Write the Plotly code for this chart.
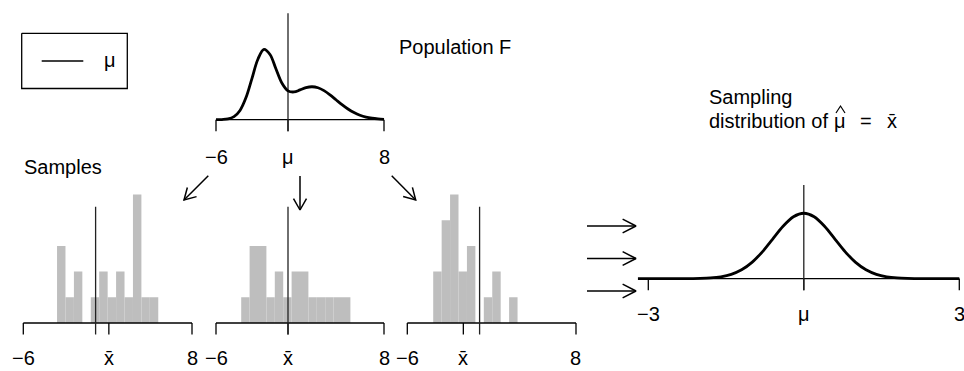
import math
import plotly.graph_objects as go

W, H = 964, 371
FONT = "Liberation Sans, Arial, Helvetica, sans-serif"
FS = 20

# ---------------- data ----------------
mu = 0.0

# population density F
pop_x = [-6, -5.5, -5, -4.5, -4, -3.5, -3, -2.5, -2, -1.5, -1, -0.5, 0, 0.5, 1, 1.5,
         2, 2.5, 3, 3.5, 4, 4.5, 5, 5.5, 6, 6.5, 7, 7.5, 8]
pop_y = [0.0001, 0.0005, 0.0024, 0.0093, 0.0281, 0.0670, 0.1254, 0.1840, 0.2130,
         0.1976, 0.1534, 0.1104, 0.0875, 0.0841, 0.0902, 0.0971, 0.0998, 0.0967,
         0.0880, 0.0753, 0.0605, 0.0457, 0.0324, 0.0216, 0.0135, 0.0079, 0.0044,
         0.0023, 0.0011]
pop_ticks = [-6, 0, 8]
pop_tick_labels = ["\u22126", "\u03bc", "8"]

# three samples (histograms)
bin_width = 0.7
sample_bin_start = [-3.2, -3.9, -3.85]
sample1_counts = [3, 1, 2, 0, 1, 2, 1, 2, 1, 5, 1, 1]
sample2_counts = [1, 3, 3, 1, 2, 1, 2, 2, 1, 1, 1, 1, 1]
sample3_counts = [2, 4, 5, 2, 3, 0, 1, 2, 0, 1]
sample_means = [1.1, 0.0, -1.35]
hist_tick_labels = ["\u22126", "x\u0304", "8"]

# sampling distribution of the mean
norm_x = [-3.2, -3.0, -2.8, -2.6, -2.4, -2.2, -2.0, -1.8, -1.6, -1.4, -1.2, -1.0,
          -0.8, -0.6, -0.4, -0.2, 0.0, 0.2, 0.4, 0.6, 0.8, 1.0, 1.2, 1.4, 1.6, 1.8,
          2.0, 2.2, 2.4, 2.6, 2.8, 3.0]
norm_y = [0.0, 0.0, 0.00001, 0.00006, 0.00022, 0.0008, 0.0026, 0.0074, 0.0190,
          0.0437, 0.0900, 0.1658, 0.2733, 0.4033, 0.5324, 0.6290, 0.6649, 0.6290,
          0.5324, 0.4033, 0.2733, 0.1658, 0.0900, 0.0437, 0.0190, 0.0074, 0.0026,
          0.0008, 0.00022, 0.00006, 0.00001, 0.0]
norm_ticks = [-3, 0, 3]
norm_tick_labels = ["\u22123", "\u03bc", "3"]

# ---------------- layout helpers ----------------
fig = go.Figure()
layout = dict(width=W, height=H, margin=dict(l=0, r=0, t=0, b=0),
              paper_bgcolor="white", plot_bgcolor="rgba(0,0,0,0)",
              showlegend=False, font=dict(family=FONT, size=FS, color="black"))
annotations = []


def refs(i):
    return ("x" if i == 1 else f"x{i}"), ("y" if i == 1 else f"y{i}")


def add_panel(i, xa, xb, pxa, pxb, xr, base, ypu, yr):
    s = (pxb - pxa) / (xb - xa)
    left = pxa + (xr[0] - xa) * s
    right = pxa + (xr[1] - xa) * s
    bottom = base - yr[0] * ypu
    top = base - yr[1] * ypu
    xk = "xaxis" if i == 1 else f"xaxis{i}"
    yk = "yaxis" if i == 1 else f"yaxis{i}"
    xr_, yr_ = refs(i)
    layout[xk] = dict(domain=[left / W, right / W], range=xr, visible=False,
                      fixedrange=True, anchor=yr_)
    layout[yk] = dict(domain=[1 - bottom / H, 1 - top / H], range=yr, visible=False,
                      fixedrange=True, anchor=xr_)


def axis_with_ticks(i, ticks, labels, tick_len, label_px, lo, hi):
    xr_, yr_ = refs(i)
    fig.add_trace(go.Scatter(x=[lo, hi], y=[0, 0], mode="lines",
                             line=dict(color="black", width=1.3),
                             xaxis=xr_, yaxis=yr_, hoverinfo="skip"))
    xs, ys = [], []
    for t in ticks:
        xs += [t, t, None]
        ys += [0, -tick_len, None]
    fig.add_trace(go.Scatter(x=xs, y=ys, mode="lines",
                             line=dict(color="black", width=1.3),
                             xaxis=xr_, yaxis=yr_, hoverinfo="skip"))
    for t, lab in zip(ticks, labels):
        annotations.append(dict(x=t, y=1 - label_px / H, xref=xr_, yref="paper",
                                text=lab, showarrow=False, xanchor="center",
                                yanchor="middle", font=dict(size=FS)))


def vline(i, x, y0, y1):
    xr_, yr_ = refs(i)
    fig.add_trace(go.Scatter(x=[x, x], y=[y0, y1], mode="lines",
                             line=dict(color="#222222", width=1.3),
                             xaxis=xr_, yaxis=yr_, hoverinfo="skip"))


TICK_PX = 11.5

# ---- population panel (1)
P_BASE, P_YPU = 119.7, 330.0
add_panel(1, -6, 8, 216, 384, [-6.5, 8.5], P_BASE, P_YPU, [-0.06, 0.34])
axis_with_ticks(1, pop_ticks, pop_tick_labels, TICK_PX / P_YPU, 157, -6, 8)
vline(1, mu, -TICK_PX / P_YPU, (P_BASE - 13.3) / P_YPU)
fig.add_trace(go.Scatter(x=pop_x, y=pop_y, mode="lines",
                         line=dict(color="black", width=2.8, shape="spline"),
                         xaxis="x", yaxis="y", hoverinfo="skip"))

# ---- histograms (2,3,4)
H_BASE, H_YPU = 323.0, 25.7
hist_px = [(23.3, 192.0), (216.0, 384.0), (407.3, 576.0)]
all_counts = [sample1_counts, sample2_counts, sample3_counts]
for k in range(3):
    i = k + 2
    xr_, yr_ = refs(i)
    add_panel(i, -6, 8, hist_px[k][0], hist_px[k][1], [-6.5, 8.5], H_BASE, H_YPU, [-0.8, 5.3])
    counts = all_counts[k]
    centers = [sample_bin_start[k] + bin_width * (j + 0.5) for j in range(len(counts))]
    fig.add_trace(go.Bar(x=centers, y=counts, width=bin_width,
                         marker=dict(color="#BEBEBE", line=dict(width=0)),
                         xaxis=xr_, yaxis=yr_, hoverinfo="skip"))
    axis_with_ticks(i, [-6, sample_means[k], 8], hist_tick_labels, TICK_PX / H_YPU, 358, -6, 8)
    vline(i, mu, -TICK_PX / H_YPU, (H_BASE - 206.7) / H_YPU)

# ---- sampling distribution (5)
N_BASE, N_YPU = 278.7, 98.4
add_panel(5, -3, 3, 648.3, 959.3, [-3.25, 3.05], N_BASE, N_YPU, [-0.2, 1.0])
axis_with_ticks(5, norm_ticks, norm_tick_labels, TICK_PX / N_YPU, 314, -3, 3)
vline(5, mu, -TICK_PX / N_YPU, (N_BASE - 185) / N_YPU)
fig.add_trace(go.Scatter(x=norm_x, y=norm_y, mode="lines",
                         line=dict(color="black", width=2.8, shape="spline", smoothing=0.8),
                         xaxis="x5", yaxis="y5", hoverinfo="skip"))

# ---- overlay in pixel space (6) for arrows, legend box, free text
layout["xaxis6"] = dict(domain=[0, 1], range=[0, W], visible=False, fixedrange=True, anchor="y6")
layout["yaxis6"] = dict(domain=[0, 1], range=[H, 0], visible=False, fixedrange=True, anchor="x6")


def arrow(x0, y0, x1, y1, head=13.0, ang=30.0):
    dx, dy = x1 - x0, y1 - y0
    L = math.hypot(dx, dy)
    bx, by = -dx / L, -dy / L
    a = math.radians(ang)
    r1 = (bx * math.cos(a) - by * math.sin(a), bx * math.sin(a) + by * math.cos(a))
    r2 = (bx * math.cos(-a) - by * math.sin(-a), bx * math.sin(-a) + by * math.cos(-a))
    xs = [x0, x1, None, x1 + head * r1[0], x1, x1 + head * r2[0]]
    ys = [y0, y1, None, y1 + head * r1[1], y1, y1 + head * r2[1]]
    fig.add_trace(go.Scatter(x=xs, y=ys, mode="lines",
                             line=dict(color="black", width=1.5),
                             xaxis="x6", yaxis="y6", hoverinfo="skip"))


arrow(208.3, 175.7, 184.0, 200.0)
arrow(300.0, 176.0, 300.0, 210.0)
arrow(391.7, 175.7, 415.7, 200.0)
for yy in (226.0, 258.5, 291.0):
    arrow(587.0, yy, 636.0, yy, head=15.0, ang=27.0)

# legend box
fig.add_trace(go.Scatter(x=[21.7, 127.3, 127.3, 21.7, 21.7], y=[33.3, 33.3, 88.5, 88.5, 33.3],
                         mode="lines", line=dict(color="black", width=1.3),
                         xaxis="x6", yaxis="y6", hoverinfo="skip"))
fig.add_trace(go.Scatter(x=[41.7, 83.3], y=[61, 61], mode="lines",
                         line=dict(color="black", width=1.3),
                         xaxis="x6", yaxis="y6", hoverinfo="skip"))


def text_px(x, y, txt, xanchor="left", size=FS):
    annotations.append(dict(x=x / W, y=1 - y / H, xref="paper", yref="paper", text=txt,
                            showarrow=False, xanchor=xanchor, yanchor="middle",
                            font=dict(size=size)))


text_px(110, 60, "\u03bc", "center")
text_px(397, 47, "Population F")
text_px(22, 167, "Samples")
text_px(707, 97, "Sampling")
text_px(707, 121, "distribution of")
# plotmath-style  mu-hat == x-bar ; the hat is drawn as a small caret
text_px(840, 121, "\u03bc", "center")
fig.add_trace(go.Scatter(x=[836.0, 840.5, 845.0], y=[113.0, 106.0, 113.0], mode="lines",
                         line=dict(color="black", width=1.2),
                         xaxis="x6", yaxis="y6", hoverinfo="skip"))
text_px(866, 121, "=", "center")
text_px(892, 121, "x\u0304", "center")

layout["annotations"] = annotations
fig.update_layout(**layout)
fig.write_html("out.html")
